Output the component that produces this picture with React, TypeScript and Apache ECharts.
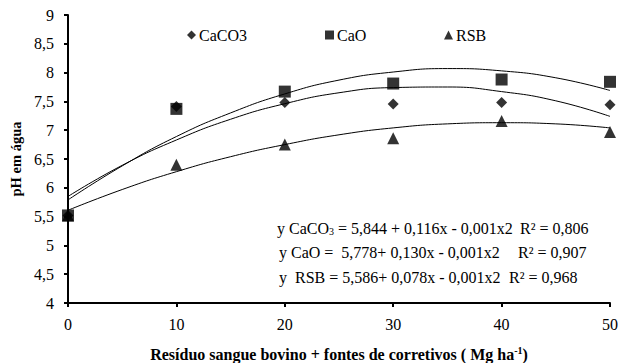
import React, { useEffect, useRef } from 'react';
import * as echarts from 'echarts';

// Observed means (pH em água) per dose (Mg ha-1)
const doses = [0, 10, 20, 30, 40, 50];
const caco3Obs = [5.52, 7.41, 7.48, 7.455, 7.48, 7.44];
const caoObs = [5.52, 7.37, 7.67, 7.81, 7.88, 7.84];
const rsbObs = [5.52, 6.4, 6.75, 6.86, 7.16, 6.97];

// Fitted curves
const trendX = [0, 5, 10, 15, 20, 25, 30, 35, 40, 45, 50];
const caco3Trend = [5.85, 6.39, 6.83, 7.19, 7.46, 7.65, 7.74, 7.75, 7.67, 7.51, 7.24];
const caoTrend = [5.79, 6.38, 6.89, 7.3, 7.63, 7.87, 8.01, 8.07, 8.03, 7.91, 7.69];
const rsbTrend = [5.61, 5.97, 6.28, 6.54, 6.75, 6.92, 7.04, 7.11, 7.13, 7.11, 7.04];

const seriesNames = ['CaCO3', 'CaO', 'RSB'];
const eqLeft = [
  'y CaCO{sub|3} = 5,844 + 0,116x - 0,001x2',
  'y CaO =\u00A0 5,778+ 0,130x - 0,001x2',
  'y\u00A0 RSB = 5,586+ 0,078x - 0,001x2',
];
const eqR2 = ['R² = 0,806', 'R² = 0,907', 'R² = 0,968'];

const FONT = 'Liberation Serif';

const pair = (xs: number[], ys: number[]) => xs.map((x, i) => [x, ys[i]]);

export default function App() {
  const ref = useRef<HTMLDivElement>(null);
  useEffect(() => {
    if (!ref.current) return;
    const chart = echarts.init(ref.current, null, { renderer: 'svg' });
    const black = '#000';
    const trend = (name: string, ys: number[]) => ({
      name,
      type: 'line',
      data: pair(trendX, ys),
      smooth: true,
      showSymbol: false,
      symbol: 'none',
      lineStyle: { color: black, width: 1 },
      z: 2,
      silent: true,
    });
    const scatter = (name: string, ys: number[], symbol: string, size: number) => ({
      name,
      type: 'scatter',
      data: pair(doses, ys),
      symbol,
      symbolSize: size,
      itemStyle: { color: black },
      z: 3,
    });
    const legendItem = (name: string, icon: string, left: number) => ({
      data: [{ name, icon }],
      left,
      top: 27,
      itemWidth: 9,
      itemHeight: 9,
      itemGap: 0,
      padding: 0,
      textStyle: { fontFamily: FONT, fontSize: 16, color: black, padding: [0, 0, 0, -2] },
    });
    const eqLineY = [229, 253, 278];
    const eqLeftX = [277, 279, 279];
    const eqR2X = [520, 518, 509];
    const graphics: any[] = [];
    eqLeft.forEach((t, i) => {
      graphics.push({
        type: 'text',
        left: eqLeftX[i],
        top: eqLineY[i] - 9,
        style: {
          text: t,
          fontFamily: FONT,
          fontSize: 16,
          fill: black,
          rich: {
            sub: { fontFamily: FONT, fontSize: 10, padding: [7, 0, 0, 0] },
          },
        },
      });
      graphics.push({
        type: 'text',
        left: eqR2X[i],
        top: eqLineY[i] - 9,
        style: { text: eqR2[i], fontFamily: FONT, fontSize: 16, fill: black },
      });
    });

    chart.setOption({
      animation: false,
      grid: {
        left: 68,
        right: 8,
        top: 15,
        bottom: 60,
        containLabel: false,
        outerBoundsMode: 'none',
      },
      legend: [
        legendItem(seriesNames[0], 'diamond', 187),
        legendItem(seriesNames[1], 'rect', 325),
        legendItem(seriesNames[2], 'triangle', 444),
      ],
      xAxis: {
        type: 'value',
        min: 0,
        max: 50,
        interval: 10,
        name: 'Resíduo sangue bovino + fontes de corretivos ( Mg ha{sup|-1})',
        nameLocation: 'middle',
        nameGap: 42,
        nameTextStyle: {
          fontFamily: FONT,
          fontSize: 16,
          fontWeight: 'bold',
          color: black,
          rich: {
            sup: { fontFamily: FONT, fontSize: 10, fontWeight: 'bold', padding: [0, 0, 8, 0] },
          },
        },
        axisLine: { lineStyle: { color: black, width: 2 } },
        axisTick: { inside: false, length: 4, lineStyle: { color: black, width: 2 } },
        axisLabel: { color: black, fontFamily: FONT, fontSize: 16, margin: 13 },
        splitLine: { show: false },
      },
      yAxis: {
        type: 'value',
        min: 4,
        max: 9,
        interval: 0.5,
        name: 'pH em água',
        nameLocation: 'middle',
        nameGap: 45,
        nameTextStyle: { fontFamily: FONT, fontSize: 14.5, fontWeight: 'bold', color: black },
        axisLine: { show: true, lineStyle: { color: black, width: 2 } },
        axisTick: { show: true, inside: false, length: 4, lineStyle: { color: black, width: 2 } },
        axisLabel: {
          color: black,
          fontFamily: FONT,
          fontSize: 16,
          margin: 14,
          formatter: (v: number) => String(v).replace('.', ','),
        },
        splitLine: { show: false },
      },
      series: [
        trend('CaCO3 ajuste', caco3Trend),
        trend('CaO ajuste', caoTrend),
        trend('RSB ajuste', rsbTrend),
        scatter('RSB', rsbObs, 'triangle', 12),
        scatter('CaCO3', caco3Obs, 'diamond', 11),
        scatter('CaO', caoObs, 'rect', 12),
      ],
      graphic: graphics,
    });
    return () => chart.dispose();
  }, []);
  return <div ref={ref} style={{ width: 618, height: 363, position: 'absolute', left: 0, top: 0 }} />;
}
